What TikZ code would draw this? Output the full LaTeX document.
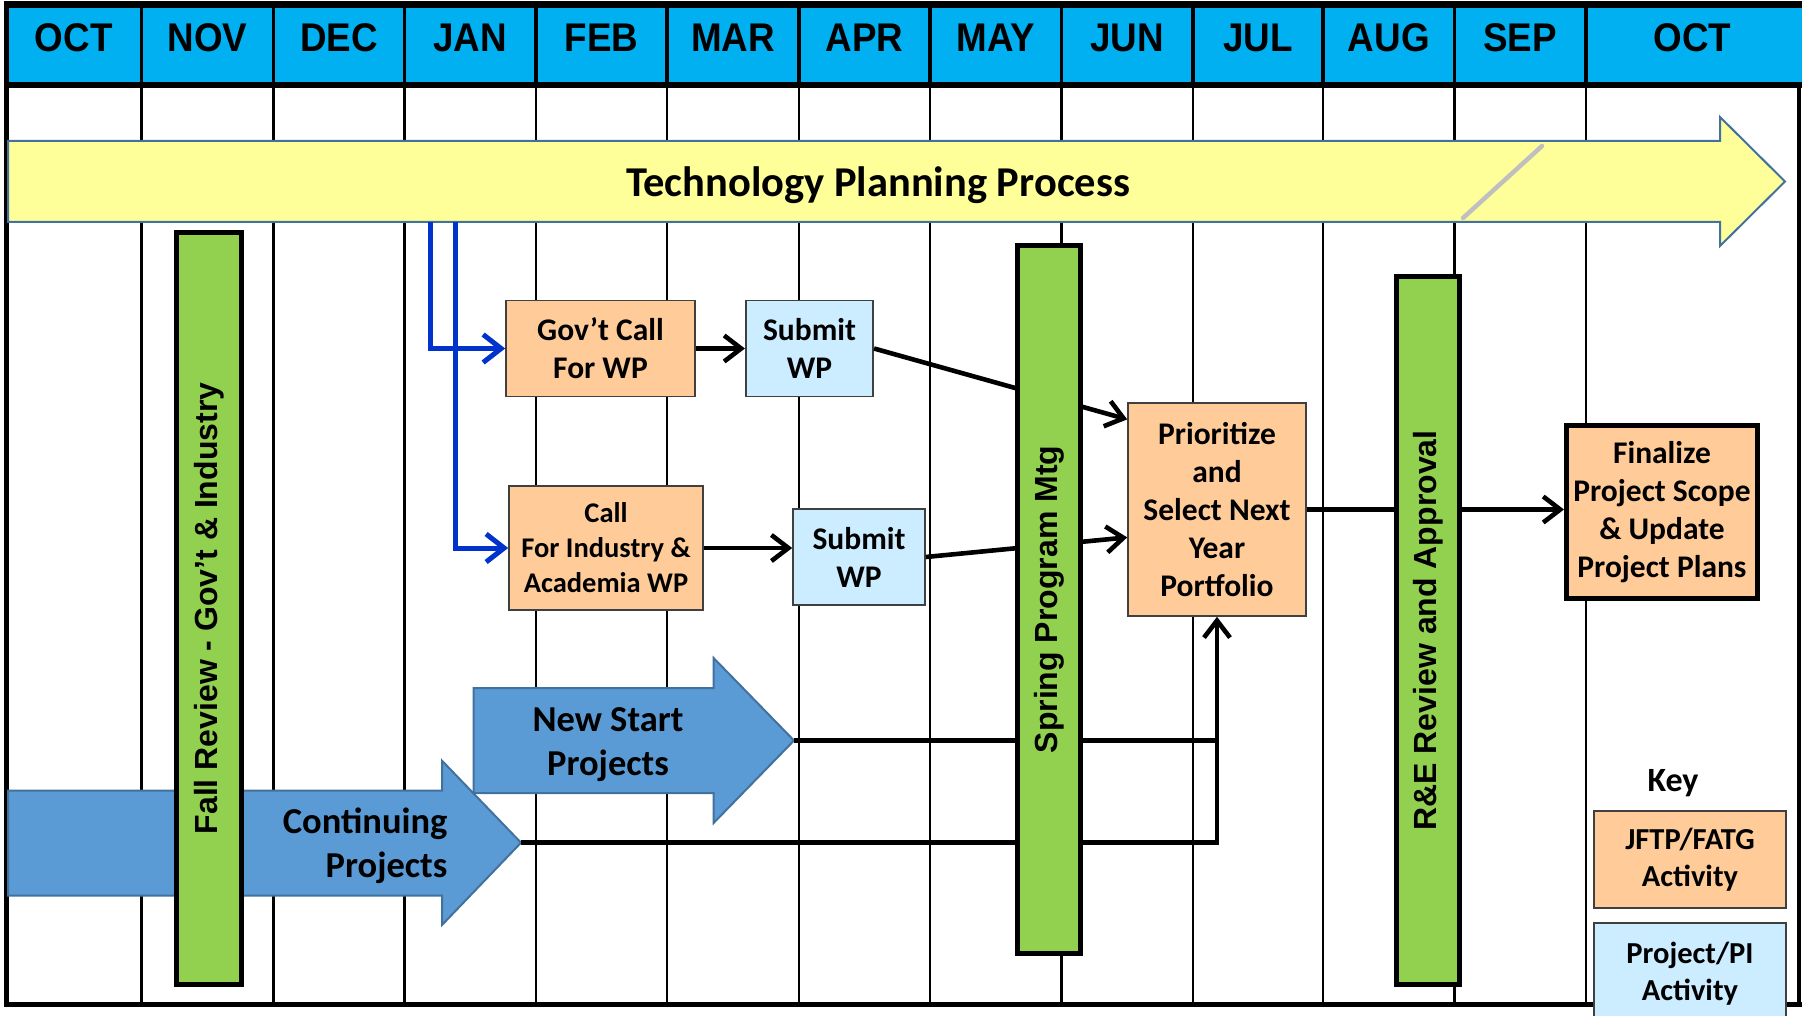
\documentclass[tikz,border=0pt]{standalone}
\usepackage{fontspec}
\setmainfont{Carlito}
\newfontfamily\arialf{Liberation Sans}
\usetikzlibrary{arrows.meta,calc}
\definecolor{hdrblue}{HTML}{00B0F0}
\definecolor{ylw}{HTML}{FFFF99}
\definecolor{grn}{HTML}{92D050}
\definecolor{peach}{HTML}{FFCC99}
\definecolor{ltblue}{HTML}{CCECFF}
\definecolor{arrblue}{HTML}{5B9BD5}
\definecolor{arredge}{HTML}{41719C}
\definecolor{conblue}{HTML}{0033CC}
\definecolor{boxedge}{HTML}{404040}
\definecolor{divgray}{HTML}{BFBFBF}
\newcommand{\mlabel}[1]{\scalebox{0.92}[1]{#1}}
\tikzset{
  month/.style={font=\arialf\bfseries\fontsize{40}{44}\selectfont, anchor=base},
  gridline/.style={line width=2.2pt, black},
  hdrline/.style={line width=3.5pt, black},
  box/.style={draw=boxedge, line width=1.6pt, inner sep=0pt, align=center, font=\bfseries\fontsize{31.5}{38}\selectfont},
  orangebox/.style={box, fill=peach},
  bluebox/.style={box, fill=ltblue},
  gbar/.style={draw=black, line width=5pt, fill=grn, rotate=90, inner sep=0pt, font=\arialf\bfseries\fontsize{32}{36}\selectfont},
  con/.style={draw=black, line width=4.6pt, -{Straight Barb[length=17pt,width=26pt]}},
  plainline/.style={draw=black, line width=4.6pt},
  bluecon/.style={draw=conblue, line width=5pt, -{Straight Barb[length=18pt,width=28pt]}},
  bigarrow/.style={fill=arrblue, draw=arredge, line width=2pt},
  arrowtext/.style={font=\bfseries\fontsize{36.5}{44}\selectfont},
}
\begin{document}
\begin{tikzpicture}[x=1pt,y=-1pt]
\useasboundingbox (0,0) rectangle (1802,1016);
\fill[white] (0,0) rectangle (1802,1016);
% header band
\fill[hdrblue] (6,5) rectangle (1802,85);
\foreach \x in {141.5,273.5,404.5,536,667,799,930,1061.5,1193,1323,1454.5,1586}{
  \draw[gridline] (\x,85) -- (\x,1004);
  \draw[hdrline] (\x,5) -- (\x,85);
}
% frame
\draw[line width=7pt] (3.5,4.5) -- (1802,4.5);
\draw[line width=6pt] (6,85) -- (1802,85);
\draw[line width=5pt] (6,1) -- (6,1006.5);
\draw[line width=5pt] (3.5,1004) -- (1802,1004);
\draw[line width=4pt] (1799,85) -- (1799,1004);
% months
\node[month] (m1) at (73.75,52) {\mlabel{OCT}};
\node[month] (m2) at (207.5,52) {\mlabel{NOV}};
\node[month] (m3) at (339,52) {\mlabel{DEC}};
\node[month] (m4) at (470.25,52) {\mlabel{JAN}};
\node[month] (m5) at (601.5,52) {\mlabel{FEB}};
\node[month] (m6) at (733,52) {\mlabel{MAR}};
\node[month] (m7) at (864.5,52) {\mlabel{APR}};
\node[month] (m8) at (995.75,52) {\mlabel{MAY}};
\node[month] (m9) at (1127.25,52) {\mlabel{JUN}};
\node[month] (m10) at (1258,52) {\mlabel{JUL}};
\node[month] (m11) at (1388.75,52) {\mlabel{AUG}};
\node[month] (m12) at (1520.25,52) {\mlabel{SEP}};
\node[month] (m13) at (1692.5,52) {\mlabel{OCT}};
% technology planning process arrow
\filldraw[fill=ylw, draw=arredge, line width=2pt] (8,141) -- (1720,141) -- (1720,117) -- (1785,181.5) -- (1720,246) -- (1720,222) -- (8,222) -- cycle;
\draw[line width=4.5pt, divgray, line cap=round] (1542,146) -- (1463,218);
\node[font=\bfseries\fontsize{42.5}{48}\selectfont, anchor=base] (tpp) at (878,197) {Technology Planning Process};
\coordinate (tp1) at (430,222);
\coordinate (tp2) at (455,222);
% continuing / new start arrows
\filldraw[bigarrow] (8,790.7) -- (442,790.7) -- (442,760.7) -- (521,842.7) -- (442,925) -- (442,895.7) -- (8,895.7) -- cycle;
\coordinate (cttip) at (521,842.7);
\filldraw[bigarrow] (473.6,688) -- (713.6,688) -- (713.6,658) -- (794,740.5) -- (713.6,823) -- (713.6,793) -- (473.6,793) -- cycle;
\coordinate (nstip) at (794,740.5);
\node[arrowtext, align=right, anchor=east] (cttext) at (451,846) {Continuing\\Projects};
\node[arrowtext, align=center] (nstext) at (608,745) {New Start\\Projects};
% boxes
\node[orangebox, minimum width=189, minimum height=96] (govt) at (600.5,348.5) {Gov’t Call\\For WP};
\node[bluebox, minimum width=127.5, minimum height=96] (sub1) at (809.5,348.5) {Submit\\WP};
\node[orangebox, minimum width=194, minimum height=124, font=\bfseries\fontsize{28.5}{35}\selectfont] (call) at (606,548) {Call\\For Industry \&\\Academia WP};
\node[bluebox, minimum width=132, minimum height=96.5] (sub2) at (859,557) {Submit\\WP};
\node[orangebox, minimum width=178, minimum height=213] (prio) at (1217,509.5) {Prioritize\\and\\Select Next\\Year\\Portfolio};
\node[orangebox, draw=black, line width=5pt, minimum width=191, minimum height=173] (fin) at (1662,512) {Finalize\\Project Scope\\\& Update\\Project Plans};
% connectors
\draw[bluecon] (tp1) |- (govt.west);
\draw[bluecon] (tp2) |- (call.west);
\draw[con] (govt.east) -- (sub1.west);
\draw[con] (call.east) -- (call.east -| sub2.west);
\draw[con] (sub1.east) -- ($(prio.north west)!0.08!(prio.south west)$);
\draw[con] (sub2.east) -- ($(prio.north west)!0.63!(prio.south west)$);
\draw[con] (prio.east) -- (prio.east -| fin.west);
\draw[con] (cttip) -| (prio.south);
\draw[plainline] (nstip) -- (nstip -| prio.south);
% green bars
\node[gbar, minimum width=752, minimum height=65] (fall) at (209,608.5) {Fall Review - Gov’t \& Industry};
\node[gbar, minimum width=708, minimum height=63] (spring) at (1049,599.5) {Spring Program Mtg};
\node[gbar, minimum width=708, minimum height=63] (re) at (1428,630.5) {R\&E Review and Approval};
% key
\node[font=\bfseries\fontsize{34}{40}\selectfont, anchor=base] (key) at (1673,791.5) {Key};
\node[orangebox, minimum width=191.5, minimum height=97, font=\bfseries\fontsize{30.5}{37}\selectfont] (k1) at (1690,859.5) {JFTP/FATG\\Activity};
\node[bluebox, minimum width=191.5, minimum height=102, font=\bfseries\fontsize{30.5}{37}\selectfont] (k2) at (1690,974) {Project/PI\\Activity};
\end{tikzpicture}
\end{document}
